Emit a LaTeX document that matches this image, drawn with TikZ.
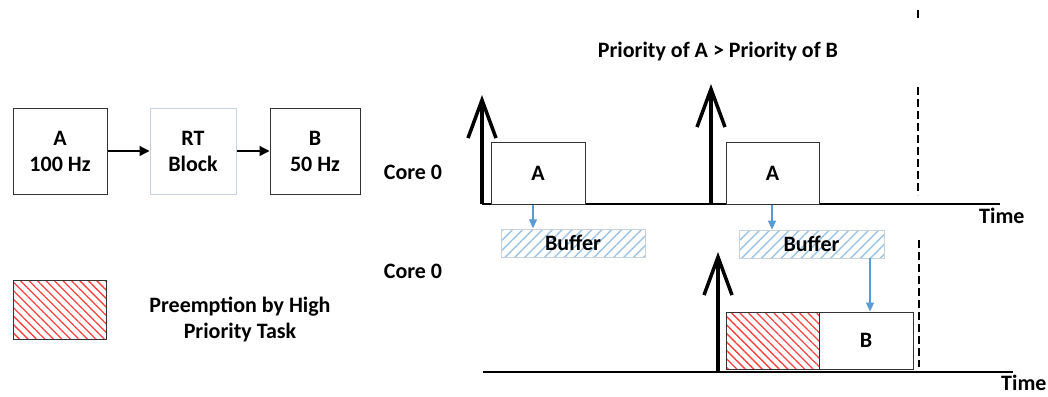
\documentclass[tikz,border=0pt]{standalone}
\usepackage{fontspec}
\setmainfont{Carlito}
\usetikzlibrary{arrows.meta,patterns.meta}
\definecolor{edge}{HTML}{333333}
\definecolor{bluearr}{HTML}{5B9BD5}
\definecolor{hatchblue}{HTML}{9DC3E6}
\definecolor{hatchred}{HTML}{FF4040}
\definecolor{lightedge}{HTML}{C8D2DC}
\begin{document}
\begin{tikzpicture}[x=1pt,y=-1pt,
  every node/.style={font=\fontsize{22}{26}\selectfont\bfseries, inner sep=0pt, align=center},
  box/.style={draw=edge, line width=1pt, fill=white, minimum height=86pt},
  rtbox/.style={draw=lightedge, line width=1pt, fill=white, minimum height=86pt},
  task/.style={draw=edge, line width=1pt, fill=white, minimum height=62pt, minimum width=93pt},
  buffer/.style={draw=lightedge, line width=0.8pt, minimum height=28pt,
    pattern={Lines[angle=45,distance=7pt,line width=1.4pt]}, pattern color=hatchblue},
  preempt/.style={draw=edge, line width=1pt,
    pattern={Lines[angle=-45,distance=6pt,line width=1.3pt]}, pattern color=hatchred},
  flow/.style={line width=1.3pt, -{Triangle[length=10pt,width=10pt]}},
  bflow/.style={draw=bluearr, line width=1.2pt, -{Triangle[length=9pt,width=8pt]}},
  release/.style={line width=3.5pt, -{Straight Barb[length=38pt,width=28pt,line width=3.5pt]}},
  axis/.style={line width=2pt},
  deadline/.style={line width=1.5pt, dash pattern=on 8pt off 4pt},
]
\useasboundingbox (0,0) rectangle (1048,396);

% left block diagram
\node[box, minimum width=94pt] (A) at (60,151) {A\\100 Hz};
\node[rtbox, minimum width=86pt] (RT) at (193,151) {RT\\Block};
\node[box, minimum width=90pt] (B) at (315,151) {B\\50 Hz};
\draw[flow] (A) -- (RT);
\draw[flow] (RT) -- (B);

% legend
\node[preempt, minimum width=93pt, minimum height=59pt] (leg) at (59.5,309.5) {};
\node (legtxt) at (240,319) {Preemption by High\\Priority Task};

% titles
\node (title) at (718,52) {Priority of A > Priority of B};
\node (core1) at (413,172) {Core 0};
\node (core2) at (413,271) {Core 0};

% timelines
\coordinate (t1s) at (482,204);
\coordinate (t1e) at (1000,204);
\coordinate (t2s) at (483,372);
\coordinate (t2e) at (1013,372);
\draw[axis] (t1s) -- (t1e);
\draw[axis] (t2s) -- (t2e);
\node[anchor=west] (time1) at (979,216) {Time};
\node[anchor=west] (time2) at (1001,383) {Time};

% release arrows
\coordinate (r1b) at (482,204); \coordinate (r1t) at (482,95);
\coordinate (r2b) at (711,204); \coordinate (r2t) at (711,84);
\coordinate (r3b) at (718,372); \coordinate (r3t) at (718,252);
\draw[release] (r1b) -- (r1t);
\draw[release] (r2b) -- (r2t);
\draw[release] (r3b) -- (r3t);

% tasks on core 0 (top)
\node[task, minimum width=94pt] (A1) at (538,173) {A};
\node[task] (A2) at (772.5,173) {A};

% buffers
\node[buffer, minimum width=144pt] (Buf1) at (573,243) {Buffer};
\node[buffer, minimum width=145pt] (Buf2) at (811.5,244) {Buffer};

% lower core
\node[preempt, minimum width=93pt, minimum height=57pt] (P) at (772.5,340.5) {};
\node[task, minimum width=94pt, minimum height=57pt] (B2) at (866,340.5) {B};

% data flow arrows
\draw[bflow] ([xshift=-5pt]A1.south) -- ([xshift=-40pt]Buf1.north);
\draw[bflow] ([xshift=-0.5pt]A2.south) -- ([xshift=-39.5pt]Buf2.north);
\draw[bflow] ([xshift=58.5pt]Buf2.south) -- ([xshift=4pt]B2.north);

% deadlines
\coordinate (d0a) at (918,10); \coordinate (d0b) at (918,20);
\coordinate (d1a) at (918,87); \coordinate (d1b) at (918,195);
\coordinate (d2a) at (919,240); \coordinate (d2b) at (919,367);
\draw[deadline] (d0a) -- (d0b);
\draw[deadline] (d1a) -- (d1b);
\draw[deadline] (d2a) -- (d2b);
\end{tikzpicture}
\end{document}
